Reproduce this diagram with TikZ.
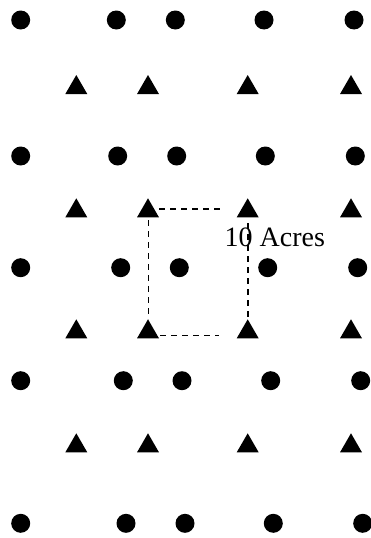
\documentclass[tikz,border=0pt]{standalone}
\usepackage{fontspec}
\setmainfont{Liberation Serif}
\usetikzlibrary{shapes.geometric}
\begin{document}
\begin{tikzpicture}[x=1pt,y=-1pt,
  dot/.style={circle,fill=black,inner sep=0pt,outer sep=0pt,minimum size=19pt},
  tri/.style={regular polygon,regular polygon sides=3,fill=black,inner sep=0pt,outer sep=0pt,minimum size=25.4pt},
  dashline/.style={line width=1.6pt,dash pattern=on 6pt off 5pt},
  lbl/.style={inner sep=0pt,anchor=base west,font=\fontsize{28}{30}\selectfont}]
\useasboundingbox (0,0) rectangle (371,538);
% circle rows
\node[dot] (c11) at (20.7,20) {};
\node[dot] (c12) at (116.3,20) {};
\node[dot] (c13) at (175.3,20) {};
\node[dot] (c14) at (264,20) {};
\node[dot] (c15) at (354,20) {};
\node[dot] (c21) at (20.7,156) {};
\node[dot] (c22) at (117.7,156) {};
\node[dot] (c23) at (176.7,156) {};
\node[dot] (c24) at (265.3,156) {};
\node[dot] (c25) at (355.3,156) {};
\node[dot] (c31) at (20.7,267.7) {};
\node[dot] (c32) at (120.7,267.7) {};
\node[dot] (c33) at (179.3,267.7) {};
\node[dot] (c34) at (267.7,267.7) {};
\node[dot] (c35) at (357.7,267.7) {};
\node[dot] (c41) at (20.7,380.7) {};
\node[dot] (c42) at (123.3,380.7) {};
\node[dot] (c43) at (182,380.7) {};
\node[dot] (c44) at (270.7,380.7) {};
\node[dot] (c45) at (360.7,380.7) {};
\node[dot] (c51) at (20.7,523.3) {};
\node[dot] (c52) at (126,523.3) {};
\node[dot] (c53) at (185,523.3) {};
\node[dot] (c54) at (273.3,523.3) {};
\node[dot] (c55) at (362.7,523.3) {};
% triangle rows
\foreach \r/\y in {1/87.7,2/211,3/332,4/446}{
  \node[tri] (t\r1) at (76.3,\y) {};
  \node[tri] (t\r2) at (148,\y) {};
  \node[tri] (t\r3) at (247.7,\y) {};
  \node[tri] (t\r4) at (351,\y) {};
}
% 10 acre plot
\coordinate (a1) at (148.3,209);
\coordinate (a2) at (223,209);
\coordinate (b1) at (148.3,319);
\coordinate (d1) at (160,335.3);
\coordinate (d2) at (219,335.3);
\coordinate (e1) at (247.7,223);
\coordinate (e2) at (247.7,317);
\draw[dashline] (a1) -- (a2);
\draw[dashline] (a1) -- (b1);
\draw[dashline] (d1) -- (d2);
\draw[dashline] (e1) -- (e2);
\node[lbl] (acres) at (224.5,246.5) {10 Acres};
\end{tikzpicture}
\end{document}
